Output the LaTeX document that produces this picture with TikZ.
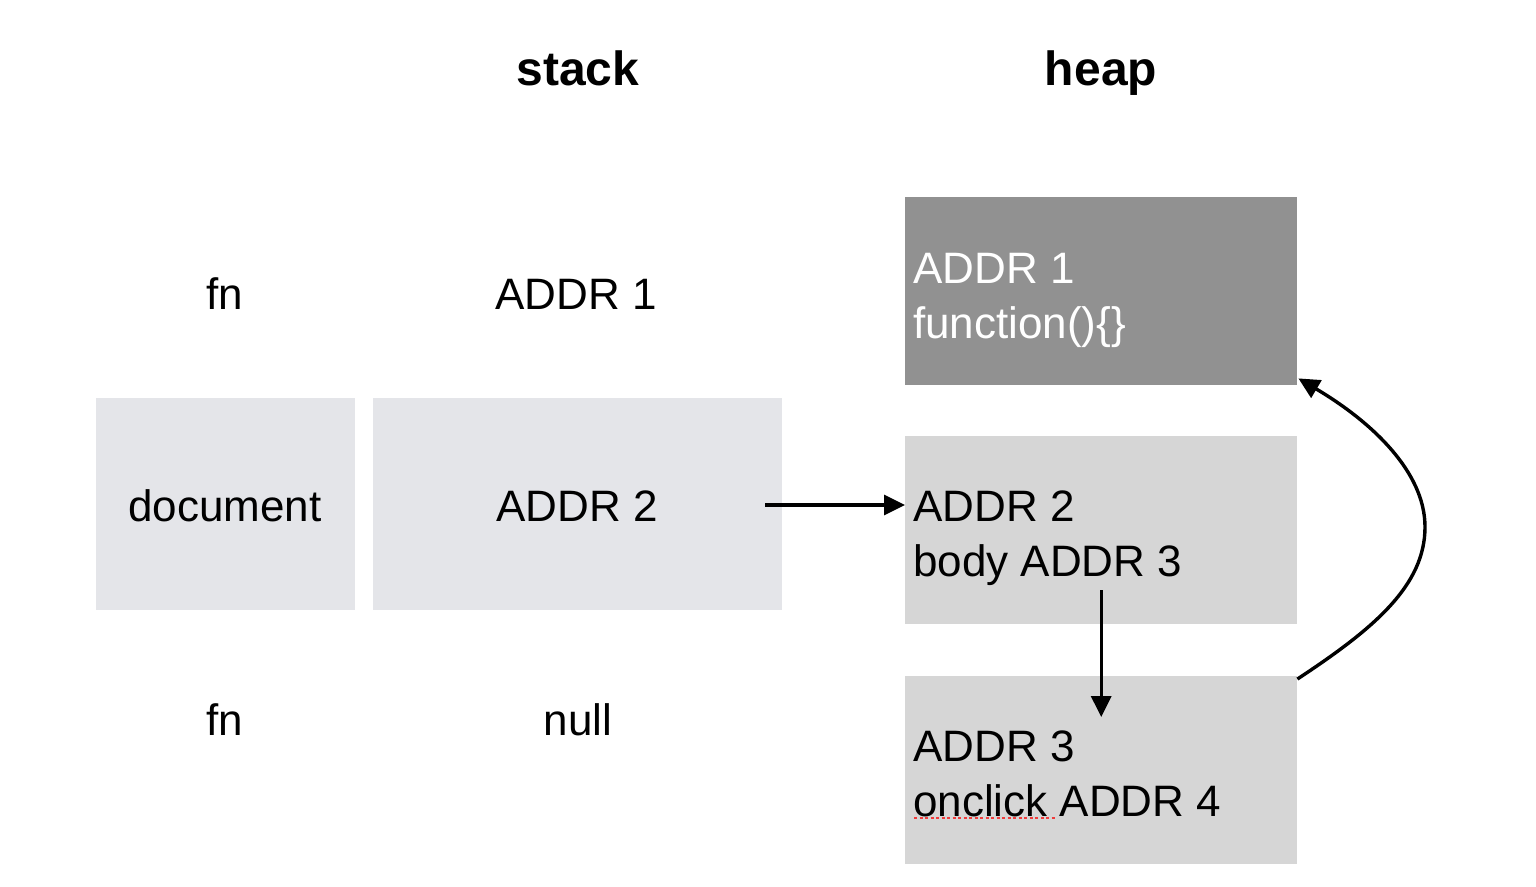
\documentclass[tikz,border=0pt]{standalone}
\usepackage{fontspec}
\setmainfont{Liberation Sans}
\usetikzlibrary{arrows.meta}
\definecolor{stackfill}{HTML}{E4E5E9}
\definecolor{heapfill}{HTML}{D6D6D6}
\definecolor{heapdark}{HTML}{919191}
\definecolor{spellred}{HTML}{F03C3C}
\tikzset{
  box/.style={draw=none, inner sep=0pt, anchor=north west},
  txt/.style={font=\fontsize{44}{55}\selectfont, inner sep=0pt, anchor=base},
  ltxt/.style={txt, anchor=base west},
  head/.style={font=\fontsize{48}{56}\selectfont\bfseries, inner sep=0pt, anchor=base},
  conn/.style={line width=3.4pt, -{Triangle[length=21pt,width=20pt]}}
}
\begin{document}
\begin{tikzpicture}[x=1pt,y=-1pt]
\useasboundingbox (0,0) rectangle (1536,886);
% headings
\node[head] (hstack) at (578,85) {stack};
\node[head] (hheap) at (1101,85) {heap};
% stack boxes
\node[box, fill=stackfill, minimum width=259pt, minimum height=212pt] (docbox) at (96,398) {};
\node[box, fill=stackfill, minimum width=409pt, minimum height=212pt] (a2box) at (373,398) {};
% stack texts
\node[txt] (fn1) at (225,309) {fn};
\node[txt] (sa1) at (576,309) {ADDR 1};
\node[txt] (doc) at (225,521) {document};
\node[txt] (sa2) at (577,521) {ADDR 2};
\node[txt] (fn2) at (225,735) {fn};
\node[txt] (snull) at (578,735) {null};
% heap boxes
\node[box, fill=heapdark, minimum width=392pt, minimum height=188pt] (heap1) at (905,197) {};
\node[box, fill=heapfill, minimum width=392pt, minimum height=188pt] (heap2) at (905,436) {};
\node[box, fill=heapfill, minimum width=392pt, minimum height=188pt] (heap3) at (905,676) {};
% heap texts
\node[ltxt, text=white] (h1a) at (913,283) {ADDR 1};
\node[ltxt, text=white] (h1b) at (913,338) {function()\{\}};
\node[ltxt] (h2a) at (913,521) {ADDR 2};
\node[ltxt] (h2b) at (913,576) {body ADDR 3};
\node[ltxt] (h3a) at (913,761) {ADDR 3};
\node[ltxt] (h3b) at (913,816) {onclick ADDR 4};
% spell-check underline
\draw[spellred, line width=2.2pt, dash pattern=on 3pt off 2.5pt] (914,818) -- (1055,818);
% connectors
\coordinate (a2start) at (765,505);
\draw[conn] (a2start) -- (heap2.west |- a2start);
\coordinate (vstart) at ([yshift=34pt]heap2.south);
\coordinate (vend) at ([yshift=-41pt]heap3.north);
\draw[conn] (vstart) -- (vend);
\coordinate (cstart) at ([yshift=-3pt]heap3.north east);
\coordinate (cmid) at (1425,527);
\coordinate (cend) at ([xshift=1pt,yshift=7pt]heap1.south east);
\draw[conn] (cstart) .. controls (1375,628) and (1425,585) .. (cmid)
  .. controls (1425,472) and (1372,422) .. (cend);
\end{tikzpicture}
\end{document}
